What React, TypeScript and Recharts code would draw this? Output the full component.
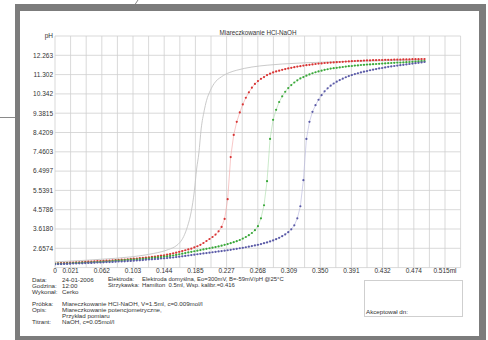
import { CartesianGrid, Line, LineChart, XAxis, YAxis } from "recharts";

// volume step between two measured points (ml)
const STEP_ML = 0.004;

const RED_PH = [
  1.9, 1.91, 1.92, 1.92, 1.93, 1.94, 1.95, 1.96, 1.96, 1.97,
  1.98, 1.99, 2.0, 2.01, 2.02, 2.02, 2.03, 2.04, 2.05, 2.06,
  2.07, 2.08, 2.09, 2.1, 2.11, 2.13, 2.14, 2.15, 2.17, 2.18,
  2.2, 2.21, 2.23, 2.25, 2.27, 2.29, 2.31, 2.34, 2.37, 2.4,
  2.44, 2.48, 2.52, 2.56, 2.6, 2.64, 2.7, 2.76, 2.83, 2.92,
  3.02, 3.12, 3.22, 3.34, 3.5, 3.72, 4.12, 5.1, 7.2, 8.3,
  8.95, 9.42, 9.82, 10.15, 10.42, 10.65, 10.84, 10.98, 11.09, 11.18,
  11.28, 11.35, 11.41, 11.46, 11.5, 11.54, 11.58, 11.61, 11.64, 11.67,
  11.7, 11.72, 11.75, 11.77, 11.79, 11.81, 11.83, 11.85, 11.86, 11.88,
  11.89, 11.9, 11.91, 11.92, 11.93, 11.94, 11.95, 11.96, 11.97, 11.98,
  11.99, 11.99, 12.0, 12.01, 12.01, 12.02, 12.02, 12.03, 12.03, 12.04,
  12.04, 12.04, 12.05, 12.05, 12.05, 12.06, 12.06, 12.06, 12.07, 12.07,
  12.07, 12.08, 12.08,
];

const GREEN_PH = [
  1.88, 1.89, 1.89, 1.9, 1.91, 1.91, 1.92, 1.93, 1.93, 1.94,
  1.95, 1.95, 1.96, 1.97, 1.97, 1.98, 1.99, 2.0, 2.01, 2.02,
  2.04, 2.05, 2.06, 2.07, 2.08, 2.09, 2.1, 2.11, 2.12, 2.13,
  2.15, 2.16, 2.18, 2.19, 2.21, 2.22, 2.24, 2.26, 2.28, 2.3,
  2.33, 2.36, 2.39, 2.42, 2.45, 2.48, 2.51, 2.54, 2.57, 2.6,
  2.63, 2.66, 2.69, 2.72, 2.75, 2.79, 2.83, 2.87, 2.91, 2.96,
  3.01, 3.07, 3.14, 3.22, 3.31, 3.42, 3.56, 3.76, 4.15, 4.8,
  6.0, 8.1, 9.05, 9.55, 9.94, 10.22, 10.45, 10.63, 10.78, 10.91,
  11.02, 11.11, 11.18, 11.25, 11.31, 11.37, 11.42, 11.46, 11.5, 11.54,
  11.57, 11.6, 11.62, 11.64, 11.66, 11.68, 11.7, 11.72, 11.73, 11.75,
  11.76, 11.78, 11.79, 11.8, 11.81, 11.82, 11.83, 11.84, 11.85, 11.86,
  11.87, 11.88, 11.89, 11.9, 11.9, 11.91, 11.92, 11.93, 11.94, 11.95,
  11.96, 11.97, 11.98,
];

const BLUE_PH = [
  1.86, 1.87, 1.87, 1.88, 1.88, 1.89, 1.9, 1.9, 1.91, 1.91,
  1.92, 1.93, 1.93, 1.94, 1.95, 1.95, 1.96, 1.97, 1.97, 1.98,
  1.99, 2.0, 2.0, 2.01, 2.02, 2.03, 2.04, 2.05, 2.06, 2.07,
  2.09, 2.1, 2.11, 2.12, 2.13, 2.15, 2.16, 2.17, 2.19, 2.2,
  2.22, 2.24, 2.26, 2.28, 2.3, 2.32, 2.34, 2.36, 2.38, 2.4,
  2.42, 2.44, 2.46, 2.48, 2.5, 2.52, 2.54, 2.56, 2.58, 2.61,
  2.63, 2.66, 2.68, 2.71, 2.74, 2.77, 2.8, 2.83, 2.87, 2.91,
  2.95, 3.0, 3.05, 3.11, 3.18, 3.26, 3.35, 3.46, 3.6, 3.8,
  4.15, 4.75, 6.05, 8.1, 8.95, 9.45, 9.78, 10.05, 10.28, 10.47,
  10.62, 10.75, 10.86, 10.95, 11.03, 11.1, 11.17, 11.23, 11.28, 11.33,
  11.37, 11.41, 11.45, 11.48, 11.52, 11.55, 11.58, 11.61, 11.63, 11.66,
  11.69, 11.71, 11.73, 11.75, 11.77, 11.79, 11.81, 11.83, 11.85, 11.87,
  11.89, 11.91, 11.93,
];

// theoretical curve (grey line, no points)
const GRAY_V = [
  0, 0.02, 0.04, 0.06, 0.08, 0.1, 0.12, 0.13, 0.14, 0.15, 0.16, 0.165, 0.17,
  0.175, 0.18, 0.184, 0.187, 0.19, 0.193, 0.197, 0.2, 0.205, 0.21, 0.22, 0.23,
  0.24, 0.26, 0.28, 0.3, 0.33, 0.36, 0.4, 0.44, 0.488,
];
const GRAY_PH = [
  1.98, 2.02, 2.06, 2.11, 2.16, 2.23, 2.33, 2.4, 2.48, 2.6, 2.78, 2.95, 3.25,
  3.75, 4.5, 5.5, 6.6, 7.4, 8.6, 9.5, 10.0, 10.5, 10.85, 11.2, 11.4,
  11.52, 11.68, 11.77, 11.83, 11.89, 11.93, 11.97, 12.0, 12.03,
];

const X_STEP = 0.0206;
const X_TICK_LABELS = [
  "0", "0.021", "0.062", "0.103", "0.144", "0.185", "0.227",
  "0.268", "0.309", "0.350", "0.391", "0.432", "0.474", "0.515ml",
];
const Y_MIN = 1.6968;
const Y_STEP = 0.96058;
const Y_TICK_LABELS = [
  "", "2.6574", "3.6180", "4.5786", "5.5391", "6.4997", "7.4603",
  "8.4209", "9.3815", "10.342", "11.302", "12.263", "pH",
];

const toPoints = (values: number[]) =>
  values.map((ph, i) => ({ v: +(i * STEP_ML).toFixed(3), ph }));

const redData = toPoints(RED_PH);
const greenData = toPoints(GREEN_PH);
const blueData = toPoints(BLUE_PH);
const grayData = GRAY_V.map((v, i) => ({ v, ph: GRAY_PH[i] }));

const xTicks = Array.from({ length: 27 }, (_, k) => k * X_STEP);
const xLabel = (k: number) => {
  if (k === 0) return X_TICK_LABELS[0];
  if (k % 2 === 1) return X_TICK_LABELS[(k + 1) / 2] ?? "";
  return "";
};
const yTicks = Y_TICK_LABELS.map((_, k) => Y_MIN + k * Y_STEP);

const FONT = '"Liberation Sans", Arial, sans-serif';
const tickStyle = { fontSize: 6.5, fill: "#333", fontFamily: FONT };

const txt = (left: number, top: number, s: string, size = 6.2) => (
  <div
    style={{
      position: "absolute",
      left,
      top,
      fontSize: size,
      lineHeight: "7px",
      whiteSpace: "pre",
      color: "#333",
    }}
  >
    {s}
  </div>
);

export default function App() {
  return (
    <div
      style={{
        position: "absolute",
        left: 0,
        top: 0,
        width: 488,
        height: 340,
        background: "#fff",
        overflow: "hidden",
        fontFamily: FONT,
      }}
    >
      <svg width={488} height={340} style={{ position: "absolute", left: 0, top: 0 }}>
        <line x1={0} y1={117.5} x2={16} y2={117.5} stroke="#8a8a8a" strokeWidth={1} />
        <line x1={138} y1={0} x2={134} y2={6} stroke="#8a8a8a" strokeWidth={1} />
      </svg>
      {/* grey frame of the printout */}
      <div style={{ position: "absolute", left: 15, top: 4, width: 471, height: 340, background: "#7c7c7c" }} />
      <div style={{ position: "absolute", left: 20, top: 11, width: 459, height: 325, background: "#fff" }} />

      <div
        style={{
          position: "absolute",
          left: 55,
          width: 406,
          top: 28.5,
          textAlign: "center",
          fontSize: 6.3,
          color: "#333",
        }}
      >
        Miareczkowanie HCl-NaOH
      </div>

      <div style={{ position: "absolute", left: 0, top: 0 }}>
        <LineChart
          width={488}
          height={340}
          margin={{ top: 36, right: 27.4, left: 25, bottom: 52.4 }}
        >
          <CartesianGrid stroke="#cfcfcf" strokeWidth={0.8} />
          <XAxis
            type="number"
            dataKey="v"
            domain={[0, 26 * X_STEP]}
            ticks={xTicks}
            interval={0}
            allowDataOverflow
            height={20}
            axisLine={false}
            tickLine={false}
            tickSize={1}
            tickMargin={0}
            tick={tickStyle}
            tickFormatter={(_v: number, k: number) => xLabel(k)}
          />
          <YAxis
            type="number"
            dataKey="ph"
            domain={[Y_MIN, Y_MIN + 12 * Y_STEP]}
            ticks={yTicks}
            interval={0}
            allowDataOverflow
            width={30}
            axisLine={false}
            tickLine={false}
            tickSize={1}
            tickMargin={1}
            tick={tickStyle}
            tickFormatter={(_v: number, k: number) => Y_TICK_LABELS[k] ?? ""}
          />
          <Line
            data={grayData}
            dataKey="ph"
            type="monotone"
            stroke="#c4c4c4"
            strokeWidth={0.9}
            dot={false}
            isAnimationActive={false}
          />
          <Line
            data={redData}
            dataKey="ph"
            type="linear"
            stroke="#f3a3a3"
            strokeWidth={0.6}
            dot={{ r: 1.1, fill: "#d83434", stroke: "none", strokeWidth: 0 }}
            isAnimationActive={false}
          />
          <Line
            data={greenData}
            dataKey="ph"
            type="linear"
            stroke="#a8dca8"
            strokeWidth={0.6}
            dot={{ r: 1.1, fill: "#3aa83a", stroke: "none", strokeWidth: 0 }}
            isAnimationActive={false}
          />
          <Line
            data={blueData}
            dataKey="ph"
            type="linear"
            stroke="#b4b4dc"
            strokeWidth={0.6}
            dot={{ r: 1.1, fill: "#5a5aa6", stroke: "none", strokeWidth: 0 }}
            isAnimationActive={false}
          />
        </LineChart>
      </div>

      {txt(32, 276, "Data:")}
      {txt(62, 276, "24-01-2006")}
      {txt(108, 276, "Elektroda:", 5.8)}
      {txt(142, 276, "Elektroda domyślna, Eo=300mV, B=-59mV/pH @25°C", 5.9)}
      {txt(32, 282, "Godzina:")}
      {txt(62, 282, "12:00")}
      {txt(108, 282, "Strzykawka:", 5.8)}
      {txt(142, 282, "Hamilton  0.5ml, Wsp. kalibr.=0.416", 5.9)}
      {txt(32, 288, "Wykonał:")}
      {txt(62, 288, "Cerko")}

      {txt(32, 300, "Próbka:")}
      {txt(62, 300, "Miareczkowanie HCl-NaOH, V=1.5ml, c=0.009mol/l")}
      {txt(32, 306, "Opis:")}
      {txt(62, 306, "Miareczkowanie potencjometryczne,")}
      {txt(62, 312, "Przykład pomiaru")}
      {txt(32, 318, "Titrant:")}
      {txt(62, 318, "NaOH, c=0.05mol/l")}

      <div
        style={{
          position: "absolute",
          left: 364,
          top: 280,
          width: 99,
          height: 37,
          border: "1px solid #cfcfcf",
          boxSizing: "border-box",
        }}
      />
      {txt(366, 308, "Akceptował dn:")}
    </div>
  );
}
